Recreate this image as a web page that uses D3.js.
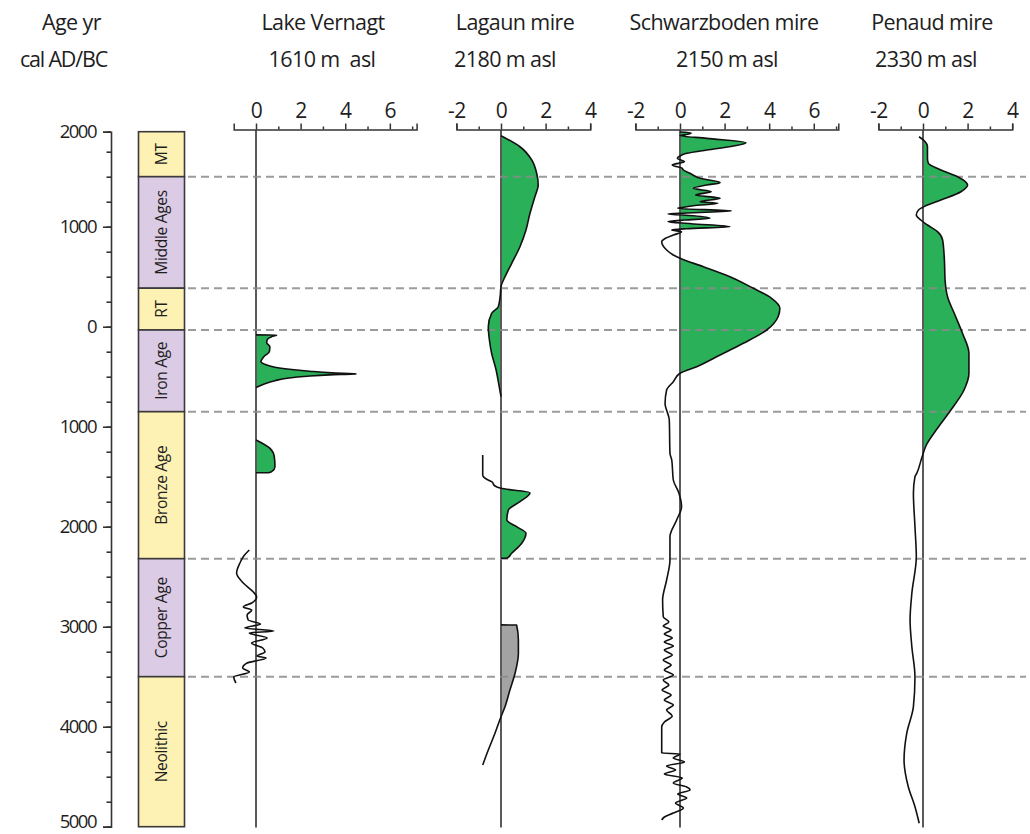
<!DOCTYPE html>
<html><head><meta charset="utf-8">
<script src="https://cdn.jsdelivr.net/npm/d3@7"></script>
<style>
body{margin:0;background:#fff;}
text{font-family:"Open Sans",sans-serif;fill:#1e1e1e;font-weight:500;}
</style>
</head><body>
<script>
// ---------- DATA ----------
const ageTicks = [2000, 1000, 0, -1000, -2000, -3000, -4000, -5000];
const ageTickLabels = ["2000", "1000", "0", "1000", "2000", "3000", "4000", "5000"];
const ageMinorTicks = d3.range(2000, -5001, -250);

const periodNames = ["MT", "Middle Ages", "RT", "Iron Age", "Bronze Age", "Copper Age", "Neolithic"];
const periodStart = [2000, 1500, 385, -33, -850, -2320, -3500];
const periodEnd   = [1500, 385, -33, -850, -2320, -3500, -5000];
const periodKind  = ["y", "p", "y", "p", "y", "p", "y"];
const boundaries  = [1500, 385, -33, -850, -2320, -3500];

const panelNames = ["Lake Vernagt", "Lagaun mire", "Schwarzboden mire", "Penaud mire"];
const panelElev  = ["1610 m\u00a0 asl", "2180 m asl", "2150 m asl", "2330 m asl"];
const panelMajorTicks = [[0, 2, 4, 6], [-2, 0, 2, 4], [-2, 0, 2, 4, 6], [-2, 0, 2, 4]];
const panelMinorTicks = [[1, 3, 5, 7], [-1, 1, 3], [-1, 1, 3, 5, 7], [-1, 1, 3]];
const panelDomains = [[-1, 7.2], [-2, 4], [-2, 7.1], [-2, 4]];

// [age (AD +, BC -), value]
const vernagt1 = [[-82,0],[-83,0.93],[-100,0.7],[-130,0.5],[-160,0.48],[-200,0.62],[-250,0.6],[-300,0.35],[-350,0.22],[-380,0.45],[-405,0.85],[-425,1.5],[-445,2.4],[-462,3.4],[-473,4.5],[-482,3.3],[-495,2.3],[-515,1.4],[-540,0.85],[-570,0.4],[-600,0.08],[-607,0]];
const vernagt2 = [[-1133,0],[-1217,0.63],[-1300,0.82],[-1400,0.85],[-1450,0.7],[-1460,0.55],[-1461,0]];
const vernagt3 = [[-2233,-0.3],[-2293,-0.55],[-2363,-0.72],[-2463,-0.87],[-2563,-0.57],[-2653,-0.12],[-2703,0.03],[-2763,-0.19],[-2803,-0.57],[-2833,-0.19],[-2883,-0.4],[-2933,-0.35],[-2973,0.2],[-3013,-0.5],[-3043,0.8],[-3063,-0.3],[-3113,0.5],[-3163,-0.2],[-3213,0.3],[-3253,0.4],[-3293,0.05],[-3313,0.45],[-3363,-0.4],[-3413,-0.6],[-3453,-0.3],[-3503,-1.0],[-3563,-0.9]];

const lagaun1 = [[1950,0],[1812,0.85],[1667,1.38],[1534,1.6],[1417,1.67],[1300,1.52],[1134,1.3],[967,1.12],[800,0.85],[634,0.48],[500,0.18],[400,0],[300,-0.04],[200,-0.12],[134,-0.42],[0,-0.57],[-133,-0.52],[-266,-0.42],[-433,-0.22],[-600,-0.08],[-700,0]];
const lagaun2 = [[-1283,-0.82],[-1483,-0.82],[-1526,-0.64],[-1550,-0.42],[-1593,-0.27],[-1616,0],[-1660,1.3],[-1750,0.85],[-1833,0.33],[-1933,0.26],[-2000,0.7],[-2066,1.12],[-2166,0.93],[-2266,0.48],[-2315,0.26],[-2316,0]];
const lagaun3 = [[-2982,0],[-2983,0.7],[-3133,0.78],[-3266,0.78],[-3466,0.63],[-3633,0.4],[-3800,0.18],[-3900,0],[-4066,-0.27],[-4233,-0.57],[-4383,-0.82]];

const schwarz = [[1996,0],[1984,0.5],[1960,0.2],[1952,0],[1917,1.2],[1862,2.96],[1821,2.4],[1771,1.2],[1734,0.3],[1707,0],[1684,-0.12],[1650,0.2],[1617,-0.35],[1584,0.1],[1567,0.15],[1534,0.45],[1484,0.9],[1440,1.8],[1417,1.2],[1384,0.6],[1350,1.4],[1317,0.7],[1284,1.8],[1250,0.9],[1234,1.7],[1210,0.6],[1194,0.15],[1184,-0.1],[1157,2.3],[1137,0.3],[1127,-0.54],[1110,0.6],[1084,1.35],[1067,0.2],[1050,-0.54],[1030,0.5],[1000,2.24],[980,0.3],[967,-0.37],[950,0.07],[917,-0.3],[884,-0.65],[850,-0.82],[767,-0.6],[717,-0.3],[684,0],[600,1.05],[500,2.24],[384,3.29],[284,4.11],[184,4.48],[100,4.4],[-33,3.89],[-166,2.84],[-283,1.8],[-400,0.75],[-466,0],[-550,-0.3],[-633,-0.6],[-766,-0.67],[-933,-0.48],[-1266,-0.45],[-1333,-0.37],[-1533,-0.3],[-1663,-0.05],[-1800,0.07],[-1933,-0.15],[-2100,-0.45],[-2333,-0.45],[-2533,-0.6],[-2733,-0.78],[-2900,-0.75],[-2953,-0.5],[-2993,-0.75],[-3033,-0.4],[-3073,-0.7],[-3113,-0.35],[-3153,-0.7],[-3193,-0.3],[-3233,-0.7],[-3283,-0.35],[-3333,-0.75],[-3383,-0.4],[-3433,-0.7],[-3483,-0.3],[-3533,-0.75],[-3583,-0.5],[-3633,-0.8],[-3683,-0.4],[-3733,-0.7],[-3783,-0.3],[-3833,-0.6],[-3893,-0.35],[-3953,-0.7],[-4003,-0.82],[-4263,-0.82],[-4273,0],[-4313,-0.3],[-4353,0.2],[-4393,-0.6],[-4433,-0.2],[-4473,-0.7],[-4513,0.1],[-4563,-0.3],[-4603,0.3],[-4633,0.45],[-4673,-0.1],[-4713,0.3],[-4763,-0.2],[-4813,0.15],[-4863,-0.3],[-4903,-0.7],[-4933,-0.82]];

const penaud = [[1937,-0.18],[1900,0.0],[1812,0.2],[1684,0.2],[1634,0.24],[1567,0.8],[1500,1.55],[1417,2.0],[1350,1.7],[1267,0.8],[1207,0.1],[1167,-0.2],[1117,-0.3],[1067,-0.1],[1017,0.2],[950,0.65],[867,0.88],[667,0.96],[467,0.99],[300,1.1],[134,1.4],[-66,1.77],[-266,2.06],[-466,2.06],[-633,1.84],[-833,1.25],[-1016,0.65],[-1183,0.15],[-1300,-0.04],[-1466,-0.28],[-1500,-0.36],[-1666,-0.43],[-2000,-0.36],[-2300,-0.3],[-2666,-0.5],[-2933,-0.58],[-3200,-0.5],[-3500,-0.36],[-3800,-0.43],[-4066,-0.73],[-4333,-0.85],[-4600,-0.66],[-4800,-0.36],[-4966,-0.17]];

// ---------- DRAWING ----------
const W = 1030, H = 834;
const GREEN = "#2bb05a", GREY = "#a3a3a3";
const svg = d3.select("body").append("svg").attr("width", W).attr("height", H);
svg.append("rect").attr("width", W).attr("height", H).attr("fill", "#fff");

const y = d3.scaleLinear().domain([2000, 1750, -5000]).range([131.7, 151.7, 826.7]);
const panelRanges = [[233.7, 416.6], [456.4, 590.2], [635.4, 838.3], [878.4, 1012.2]];
const xs = panelDomains.map((d, i) => d3.scaleLinear().domain(d).range(panelRanges[i]));

const defs = svg.append("defs");
xs.forEach((x, i) => {
  defs.append("clipPath").attr("id", "pos" + i).append("rect")
    .attr("x", x(0)).attr("y", 0).attr("width", 300).attr("height", H);
});

// Period bar
const barX = 138.5, barW = 46;
const pg = svg.append("g");
periodNames.forEach((name, i) => {
  const y0 = y(periodStart[i]), y1 = y(periodEnd[i]);
  pg.append("rect").attr("x", barX).attr("y", y0).attr("width", barW).attr("height", y1 - y0)
    .attr("fill", periodKind[i] === "y" ? "#fdf1b3" : "#dccbe5")
    .attr("stroke", "#3a3a3a").attr("stroke-width", 1.6);
  pg.append("text")
    .attr("transform", `translate(${barX + barW / 2 + 5.5},${(y0 + y1) / 2}) rotate(-90)`)
    .attr("text-anchor", "middle").attr("font-size", 15.5).attr("letter-spacing", -0.3)
    .text(name);
});

// Left age axis
const axL = svg.append("g").attr("transform", "translate(111,0)");
axL.call(d3.axisLeft(y).tickValues(ageMinorTicks).tickSize(4.5).tickSizeOuter(0).tickFormat(""));
axL.call(g => g.select(".domain").remove());
const axL2 = svg.append("g").attr("transform", "translate(111,0)");
axL2.call(d3.axisLeft(y).tickValues(ageTicks).tickSize(8).tickSizeOuter(8).tickPadding(7)
  .tickFormat((d, i) => ageTickLabels[i]));
[axL, axL2].forEach(g => {
  g.selectAll("line").attr("stroke", "#333").attr("stroke-width", 1.6);
  g.selectAll("path").attr("stroke", "#333").attr("stroke-width", 1.6);
  g.selectAll("text").attr("font-size", 18.5).attr("letter-spacing", -1.5)
    .attr("font-family", "Open Sans").attr("fill", "#1e1e1e")
    .attr("dy", d => d === -5000 ? "0.02em" : "0.3em");
});

// Fills
const fillLayer = svg.append("g");
const areaGen = (x) => d3.area().y(d => y(d[0])).x0(x(0)).x1(d => x(d[1])).curve(d3.curveMonotoneY);
const lineGen = (x) => d3.line().y(d => y(d[0])).x(d => x(d[1])).curve(d3.curveMonotoneY);

const fills = [
  {p: 0, data: vernagt1, color: GREEN, clip: true},
  {p: 0, data: vernagt2, color: GREEN, clip: true},
  {p: 1, data: lagaun1, color: GREEN, clip: false},
  {p: 1, data: lagaun2, color: GREEN, clip: true},
  {p: 1, data: lagaun3, color: GREY, clip: true},
  {p: 2, data: schwarz.filter(d => d[0] > -1300), color: GREEN, clip: true},
  {p: 3, data: penaud, color: GREEN, clip: true}
];
fills.forEach(f => {
  const path = fillLayer.append("path").attr("d", areaGen(xs[f.p])(f.data)).attr("fill", f.color);
  if (f.clip) path.attr("clip-path", `url(#pos${f.p})`);
});

// Zero lines
xs.forEach(x => {
  svg.append("line").attr("x1", x(0)).attr("x2", x(0)).attr("y1", 130).attr("y2", 827.5)
    .attr("stroke", "#5a5a5a").attr("stroke-width", 2);
});

// Dashed period boundaries
boundaries.forEach(b => {
  svg.append("line").attr("x1", 188).attr("x2", 1026).attr("y1", y(b)).attr("y2", y(b))
    .attr("stroke", "#8a8a8a").attr("stroke-width", 2).attr("stroke-dasharray", "8,5")
    .attr("opacity", 0.85);
});

// Curve lines
const lines = [
  {p: 0, data: vernagt1}, {p: 0, data: vernagt2}, {p: 0, data: vernagt3},
  {p: 1, data: lagaun1}, {p: 1, data: lagaun2}, {p: 1, data: lagaun3},
  {p: 2, data: schwarz}, {p: 3, data: penaud}
];
lines.forEach(l => {
  svg.append("path").attr("d", lineGen(xs[l.p])(l.data)).attr("fill", "none")
    .attr("stroke", "#111").attr("stroke-width", 1.6).attr("stroke-linejoin", "round");
});

// Panel top axes
xs.forEach((x, i) => {
  const g = svg.append("g").attr("transform", "translate(0,129.5)");
  g.call(d3.axisTop(x).tickValues(panelMinorTicks[i].filter(v => v <= panelDomains[i][1]))
    .tickSize(3).tickSizeOuter(0).tickFormat(""));
  g.select(".domain").remove();
  const g2 = svg.append("g").attr("transform", "translate(0,129.5)");
  g2.call(d3.axisTop(x).tickValues(panelMajorTicks[i]).tickSize(6).tickSizeOuter(6)
    .tickPadding(6).tickFormat(d => String(d)));
  [g, g2].forEach(gg => {
    gg.selectAll("line").attr("stroke", "#333").attr("stroke-width", 1.5);
    gg.selectAll("path").attr("stroke", "#333").attr("stroke-width", 1.5);
    gg.selectAll("text").attr("font-size", 21).attr("letter-spacing", -0.5)
      .attr("font-family", "Open Sans").attr("fill", "#1e1e1e");
  });
});

// Headers
const hdr = svg.append("g").attr("font-size", 21.5).attr("letter-spacing", -0.6);
hdr.append("text").attr("x", 42).attr("y", 30).text("Age yr");
hdr.append("text").attr("x", 20).attr("y", 67).attr("letter-spacing", -1.2).text("cal AD/BC");
const titleX = [323, 515, 724, 932];
const elevX = [322, 505, 727, 926];
panelNames.forEach((n, i) => {
  hdr.append("text").attr("x", titleX[i]).attr("y", 30).attr("text-anchor", "middle").text(n);
  hdr.append("text").attr("x", elevX[i]).attr("y", 67).attr("text-anchor", "middle")
    .style("white-space", "pre").text(panelElev[i]);
});
</script>
</body></html>
